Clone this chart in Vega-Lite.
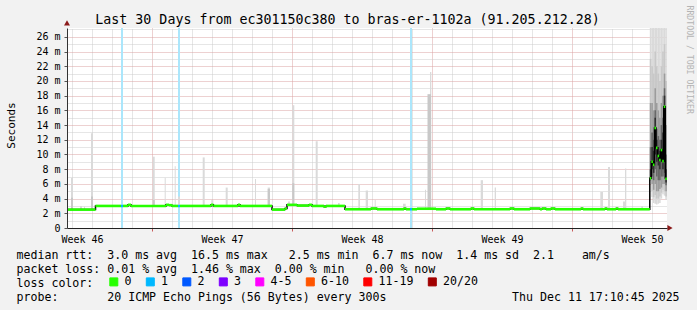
{
  "$schema": "https://vega.github.io/schema/vega-lite/v6.json",
  "width": 600,
  "height": 200,
  "autosize": {"type": "none"},
  "padding": {"left": 67, "top": 28, "right": 30, "bottom": 82},
  "background": "#f2f2f2",
  "config": {
    "view": {"fill": "white", "stroke": null},
    "font": "DejaVu Sans Mono"
  },
  "title": {
    "text": "Last 30 Days from ec301150c380 to bras-er-1102a (91.205.212.28)",
    "font": "DejaVu Sans Mono",
    "fontSize": 13.3,
    "fontWeight": "normal",
    "color": "black",
    "anchor": "middle",
    "frame": "group",
    "dx": -19.5,
    "dy": 25,
    "offset": 4
  },
  "datasets": {
    "median": [
      {"t0": 0, "t1": 1.425, "rtt": 2.5, "loss": "0"},
      {"t0": 1.425, "t1": 2.7, "rtt": 3.0, "loss": "0"},
      {"t0": 2.7, "t1": 2.8, "rtt": 3.0, "loss": "1"},
      {"t0": 2.8, "t1": 3.05, "rtt": 3.0, "loss": "0"},
      {"t0": 3.05, "t1": 3.2, "rtt": 3.15, "loss": "0"},
      {"t0": 3.2, "t1": 4.95, "rtt": 3.0, "loss": "0"},
      {"t0": 4.95, "t1": 5.1, "rtt": 3.15, "loss": "0"},
      {"t0": 5.1, "t1": 5.25, "rtt": 3.1, "loss": "0"},
      {"t0": 5.25, "t1": 5.55, "rtt": 3.0, "loss": "0"},
      {"t0": 5.55, "t1": 5.65, "rtt": 3.0, "loss": "1"},
      {"t0": 5.65, "t1": 7.2, "rtt": 3.0, "loss": "0"},
      {"t0": 7.2, "t1": 7.32, "rtt": 3.15, "loss": "0"},
      {"t0": 7.32, "t1": 8.55, "rtt": 3.0, "loss": "0"},
      {"t0": 8.55, "t1": 8.65, "rtt": 3.15, "loss": "0"},
      {"t0": 8.65, "t1": 10.25, "rtt": 3.0, "loss": "0"},
      {"t0": 10.25, "t1": 10.9, "rtt": 2.5, "loss": "0"},
      {"t0": 10.9, "t1": 11.0, "rtt": 2.65, "loss": "0"},
      {"t0": 11.0, "t1": 11.5, "rtt": 3.15, "loss": "0"},
      {"t0": 11.5, "t1": 12.1, "rtt": 3.05, "loss": "0"},
      {"t0": 12.1, "t1": 12.25, "rtt": 3.15, "loss": "0"},
      {"t0": 12.25, "t1": 12.85, "rtt": 3.0, "loss": "0"},
      {"t0": 12.85, "t1": 12.95, "rtt": 2.9, "loss": "0"},
      {"t0": 12.95, "t1": 13.9, "rtt": 3.0, "loss": "0"},
      {"t0": 13.9, "t1": 15.2, "rtt": 2.55, "loss": "0"},
      {"t0": 15.2, "t1": 15.5, "rtt": 2.65, "loss": "0"},
      {"t0": 15.5, "t1": 16.85, "rtt": 2.55, "loss": "0"},
      {"t0": 16.85, "t1": 16.95, "rtt": 2.65, "loss": "0"},
      {"t0": 16.95, "t1": 17.15, "rtt": 2.55, "loss": "0"},
      {"t0": 17.15, "t1": 17.25, "rtt": 2.55, "loss": "1"},
      {"t0": 17.25, "t1": 17.5, "rtt": 2.55, "loss": "0"},
      {"t0": 17.5, "t1": 18.45, "rtt": 2.62, "loss": "0"},
      {"t0": 18.45, "t1": 18.95, "rtt": 2.55, "loss": "0"},
      {"t0": 18.95, "t1": 19.15, "rtt": 2.65, "loss": "0"},
      {"t0": 19.15, "t1": 20.2, "rtt": 2.55, "loss": "0"},
      {"t0": 20.2, "t1": 20.35, "rtt": 2.65, "loss": "0"},
      {"t0": 20.35, "t1": 22.15, "rtt": 2.55, "loss": "0"},
      {"t0": 22.15, "t1": 22.35, "rtt": 2.65, "loss": "0"},
      {"t0": 22.35, "t1": 23.15, "rtt": 2.55, "loss": "0"},
      {"t0": 23.15, "t1": 23.65, "rtt": 2.65, "loss": "0"},
      {"t0": 23.65, "t1": 23.75, "rtt": 2.55, "loss": "0"},
      {"t0": 23.75, "t1": 23.95, "rtt": 2.65, "loss": "0"},
      {"t0": 23.95, "t1": 24.2, "rtt": 2.55, "loss": "0"},
      {"t0": 24.2, "t1": 24.4, "rtt": 2.65, "loss": "0"},
      {"t0": 24.4, "t1": 25.7, "rtt": 2.55, "loss": "0"},
      {"t0": 25.7, "t1": 25.8, "rtt": 2.65, "loss": "0"},
      {"t0": 25.8, "t1": 26.9, "rtt": 2.55, "loss": "0"},
      {"t0": 26.9, "t1": 27.0, "rtt": 2.65, "loss": "0"},
      {"t0": 27.0, "t1": 27.45, "rtt": 2.55, "loss": "0"},
      {"t0": 27.45, "t1": 27.55, "rtt": 2.65, "loss": "0"},
      {"t0": 27.55, "t1": 29.14, "rtt": 2.55, "loss": "0"},
      {"t0": 29.14, "t1": 29.2175, "rtt": 6.76, "loss": "0"},
      {"t0": 29.2175, "t1": 29.295, "rtt": 9.0, "loss": "0"},
      {"t0": 29.295, "t1": 29.3725, "rtt": 8.6, "loss": "0"},
      {"t0": 29.3725, "t1": 29.45, "rtt": 13.6, "loss": "0"},
      {"t0": 29.45, "t1": 29.5275, "rtt": 10.9, "loss": "0"},
      {"t0": 29.5275, "t1": 29.605, "rtt": 9.8, "loss": "0"},
      {"t0": 29.605, "t1": 29.6825, "rtt": 9.25, "loss": "0"},
      {"t0": 29.6825, "t1": 29.76, "rtt": 10.6, "loss": "0"},
      {"t0": 29.76, "t1": 29.8375, "rtt": 9.1, "loss": "0"},
      {"t0": 29.8375, "t1": 29.915, "rtt": 16.5, "loss": "0"},
      {"t0": 29.915, "t1": 29.9925, "rtt": 6.7, "loss": "0"}
    ],
    "smoke": [
      {"t0": 0.2, "t1": 0.3, "lo": 2.6, "hi": 6.8, "level": 1},
      {"t0": 0.2, "t1": 0.3, "lo": 2.6, "hi": 4.1, "level": 2},
      {"t0": 0.65, "t1": 0.75, "lo": 2.5, "hi": 3.0, "level": 1},
      {"t0": 0.85, "t1": 0.9, "lo": 2.5, "hi": 2.9, "level": 1},
      {"t0": 1.2, "t1": 1.3, "lo": 2.6, "hi": 12.9, "level": 1},
      {"t0": 1.2, "t1": 1.3, "lo": 2.6, "hi": 4.3, "level": 2},
      {"t0": 4.285, "t1": 4.385, "lo": 3.0, "hi": 9.7, "level": 1},
      {"t0": 4.285, "t1": 4.385, "lo": 3.0, "hi": 3.8, "level": 2},
      {"t0": 4.885, "t1": 4.935, "lo": 3.0, "hi": 6.85, "level": 1},
      {"t0": 5.385, "t1": 5.435, "lo": 3.0, "hi": 8.4, "level": 1},
      {"t0": 5.55, "t1": 5.65, "lo": 3.0, "hi": 4.3, "level": 1},
      {"t0": 6.785, "t1": 6.885, "lo": 3.0, "hi": 9.6, "level": 1},
      {"t0": 7.215, "t1": 7.315, "lo": 3.0, "hi": 3.8, "level": 1},
      {"t0": 7.935, "t1": 8.035, "lo": 3.0, "hi": 5.5, "level": 1},
      {"t0": 9.4, "t1": 9.45, "lo": 3.0, "hi": 6.67, "level": 1},
      {"t0": 10.035, "t1": 10.15, "lo": 3.0, "hi": 5.5, "level": 1},
      {"t0": 10.035, "t1": 10.15, "lo": 3.0, "hi": 5.3, "level": 2},
      {"t0": 11.265, "t1": 11.365, "lo": 3.0, "hi": 16.7, "level": 1},
      {"t0": 11.265, "t1": 11.365, "lo": 3.0, "hi": 6.1, "level": 2},
      {"t0": 11.05, "t1": 11.15, "lo": 3.0, "hi": 3.6, "level": 1},
      {"t0": 12.435, "t1": 12.535, "lo": 3.0, "hi": 11.8, "level": 1},
      {"t0": 13.55, "t1": 13.635, "lo": 3.0, "hi": 3.4, "level": 1},
      {"t0": 14.565, "t1": 14.65, "lo": 2.5, "hi": 6.0, "level": 1},
      {"t0": 14.935, "t1": 15.05, "lo": 2.5, "hi": 5.1, "level": 1},
      {"t0": 15.385, "t1": 15.435, "lo": 2.5, "hi": 3.8, "level": 1},
      {"t0": 16.8, "t1": 16.935, "lo": 2.5, "hi": 3.3, "level": 1},
      {"t0": 17.9, "t1": 17.95, "lo": 2.5, "hi": 5.2, "level": 1},
      {"t0": 18.15, "t1": 18.215, "lo": 2.5, "hi": 21.2, "level": 1},
      {"t0": 18.025, "t1": 18.2, "lo": 2.5, "hi": 18.2, "level": 2},
      {"t0": 20.685, "t1": 20.8, "lo": 2.5, "hi": 6.5, "level": 1},
      {"t0": 21.385, "t1": 21.45, "lo": 2.5, "hi": 5.5, "level": 1},
      {"t0": 26.665, "t1": 26.8, "lo": 2.5, "hi": 4.9, "level": 1},
      {"t0": 27.05, "t1": 27.15, "lo": 2.5, "hi": 8.3, "level": 1},
      {"t0": 27.9, "t1": 27.965, "lo": 2.5, "hi": 8.1, "level": 1},
      {"t0": 27.8, "t1": 27.9, "lo": 2.5, "hi": 3.6, "level": 1},
      {"t0": 28.715, "t1": 28.8, "lo": 2.5, "hi": 3.0, "level": 1},

      {"t0": 29.14, "t1": 29.2175, "lo": 6.4, "hi": 27.5, "level": 1},
      {"t0": 29.14, "t1": 29.2175, "lo": 6.5, "hi": 23, "level": 2},
      {"t0": 29.14, "t1": 29.2175, "lo": 6.6, "hi": 17, "level": 3},
      {"t0": 29.14, "t1": 29.2175, "lo": 6.7, "hi": 11, "level": 4},
      {"t0": 29.14, "t1": 29.2175, "lo": 6.7, "hi": 8, "level": 5},
      {"t0": 29.2175, "t1": 29.295, "lo": 4.2, "hi": 27.5, "level": 1},
      {"t0": 29.2175, "t1": 29.295, "lo": 5, "hi": 22, "level": 2},
      {"t0": 29.2175, "t1": 29.295, "lo": 6, "hi": 17, "level": 3},
      {"t0": 29.2175, "t1": 29.295, "lo": 7, "hi": 13, "level": 4},
      {"t0": 29.2175, "t1": 29.295, "lo": 8, "hi": 11, "level": 5},
      {"t0": 29.295, "t1": 29.3725, "lo": 3.4, "hi": 27.5, "level": 1},
      {"t0": 29.295, "t1": 29.3725, "lo": 4.2, "hi": 21, "level": 2},
      {"t0": 29.295, "t1": 29.3725, "lo": 5.2, "hi": 16, "level": 3},
      {"t0": 29.295, "t1": 29.3725, "lo": 6.5, "hi": 12, "level": 4},
      {"t0": 29.295, "t1": 29.3725, "lo": 7.5, "hi": 10.5, "level": 5},
      {"t0": 29.3725, "t1": 29.45, "lo": 3.3, "hi": 27.5, "level": 1},
      {"t0": 29.3725, "t1": 29.45, "lo": 4.5, "hi": 24, "level": 2},
      {"t0": 29.3725, "t1": 29.45, "lo": 6, "hi": 19, "level": 3},
      {"t0": 29.3725, "t1": 29.45, "lo": 8, "hi": 16, "level": 4},
      {"t0": 29.3725, "t1": 29.45, "lo": 10, "hi": 15, "level": 5},
      {"t0": 29.45, "t1": 29.5275, "lo": 3.2, "hi": 27.5, "level": 1},
      {"t0": 29.45, "t1": 29.5275, "lo": 4, "hi": 22, "level": 2},
      {"t0": 29.45, "t1": 29.5275, "lo": 5, "hi": 17, "level": 3},
      {"t0": 29.45, "t1": 29.5275, "lo": 7, "hi": 13.5, "level": 4},
      {"t0": 29.45, "t1": 29.5275, "lo": 9, "hi": 12, "level": 5},
      {"t0": 29.5275, "t1": 29.605, "lo": 3.3, "hi": 27.5, "level": 1},
      {"t0": 29.5275, "t1": 29.605, "lo": 4, "hi": 21, "level": 2},
      {"t0": 29.5275, "t1": 29.605, "lo": 5, "hi": 16, "level": 3},
      {"t0": 29.5275, "t1": 29.605, "lo": 6.5, "hi": 12.5, "level": 4},
      {"t0": 29.5275, "t1": 29.605, "lo": 8.5, "hi": 11, "level": 5},
      {"t0": 29.605, "t1": 29.6825, "lo": 3.4, "hi": 27.5, "level": 1},
      {"t0": 29.605, "t1": 29.6825, "lo": 4.3, "hi": 20, "level": 2},
      {"t0": 29.605, "t1": 29.6825, "lo": 5.3, "hi": 15, "level": 3},
      {"t0": 29.605, "t1": 29.6825, "lo": 6.5, "hi": 12, "level": 4},
      {"t0": 29.605, "t1": 29.6825, "lo": 8, "hi": 10.5, "level": 5},
      {"t0": 29.6825, "t1": 29.76, "lo": 4, "hi": 27.5, "level": 1},
      {"t0": 29.6825, "t1": 29.76, "lo": 4.8, "hi": 22, "level": 2},
      {"t0": 29.6825, "t1": 29.76, "lo": 5.5, "hi": 17, "level": 3},
      {"t0": 29.6825, "t1": 29.76, "lo": 7, "hi": 14, "level": 4},
      {"t0": 29.6825, "t1": 29.76, "lo": 9, "hi": 12, "level": 5},
      {"t0": 29.76, "t1": 29.8375, "lo": 4.6, "hi": 27.5, "level": 1},
      {"t0": 29.76, "t1": 29.8375, "lo": 5.2, "hi": 24, "level": 2},
      {"t0": 29.76, "t1": 29.8375, "lo": 6, "hi": 18, "level": 3},
      {"t0": 29.76, "t1": 29.8375, "lo": 7, "hi": 15, "level": 4},
      {"t0": 29.76, "t1": 29.8375, "lo": 8, "hi": 13, "level": 5},
      {"t0": 29.8375, "t1": 29.915, "lo": 4.4, "hi": 27.5, "level": 1},
      {"t0": 29.8375, "t1": 29.915, "lo": 5, "hi": 25, "level": 2},
      {"t0": 29.8375, "t1": 29.915, "lo": 6, "hi": 21, "level": 3},
      {"t0": 29.8375, "t1": 29.915, "lo": 7.5, "hi": 19, "level": 4},
      {"t0": 29.8375, "t1": 29.915, "lo": 9, "hi": 18, "level": 5},
      {"t0": 29.915, "t1": 29.9925, "lo": 3.8, "hi": 27.5, "level": 1},
      {"t0": 29.915, "t1": 29.9925, "lo": 4.3, "hi": 20, "level": 2},
      {"t0": 29.915, "t1": 29.9925, "lo": 5, "hi": 14, "level": 3},
      {"t0": 29.915, "t1": 29.9925, "lo": 5.8, "hi": 10, "level": 4},
      {"t0": 29.915, "t1": 29.9925, "lo": 6.2, "hi": 8, "level": 5}
    ]
  },
  "resolve": {"axis": {"x": "independent", "y": "independent"}},
  "layer": [
    {
      "data": {"name": "median"},
      "transform": [{"filter": "datum.loss !== '0'"}],
      "mark": {"type": "rect", "color": "#abe6fb"},
      "encoding": {
        "x": {
          "field": "t0", "type": "quantitative",
          "scale": {"domain": [0, 30], "nice": false, "zero": false},
          "axis": {
            "orient": "bottom",
            "values": [0.25, 1.25, 2.25, 3.25, 5.25, 6.25, 7.25, 8.25, 9.25, 10.25, 12.25, 13.25, 14.25, 15.25, 16.25, 17.25, 19.25, 20.25, 21.25, 22.25, 23.25, 24.25, 26.25, 27.25, 28.25, 29.25],
            "grid": true, "gridColor": "#cccccc", "gridDash": [1, 1], "gridWidth": 1,
            "labels": false, "ticks": false, "domain": false, "title": null
          }
        },
        "x2": {"field": "t1"}
      }
    },
    {
      "data": {"name": "smoke"},
      "mark": {"type": "rect", "clip": true},
      "encoding": {
        "x": {
          "field": "t0", "type": "quantitative",
          "axis": {
            "orient": "bottom",
            "values": [4.25, 11.25, 18.25, 25.25],
            "grid": true, "gridColor": "#dba2a2", "gridDash": [1, 1], "gridWidth": 1,
            "labels": false, "ticks": true, "tickColor": "#c85a5a", "tickSize": 3,
            "domain": false, "title": null
          }
        },
        "x2": {"field": "t1"},
        "y": {
          "field": "lo", "type": "quantitative",
          "scale": {"domain": [0, 27.2], "nice": false, "zero": true},
          "axis": {
            "orient": "left",
            "values": [1, 3, 5, 7, 9, 11, 13, 15, 17, 19, 21, 23, 25, 27],
            "grid": true, "gridColor": "#cccccc", "gridDash": [1, 1], "gridWidth": 1,
            "labels": false, "ticks": false, "domain": false, "title": null
          }
        },
        "y2": {"field": "hi"},
        "fill": {
          "field": "level", "type": "ordinal",
          "scale": {"domain": [1, 2, 3, 4, 5], "range": ["#dadada", "#c8c8c8", "#9c9c9c", "#686868", "#303030"]},
          "legend": null
        },
        "order": {"field": "level", "type": "quantitative"}
      }
    },
    {
      "data": {"name": "median"},
      "mark": {"type": "line", "interpolate": "step-after", "color": "black", "strokeWidth": 1.5},
      "encoding": {
        "x": {"field": "t0", "type": "quantitative", "axis": null},
        "y": {
          "field": "rtt", "type": "quantitative",
          "axis": {
            "orient": "left",
            "values": [2, 4, 6, 8, 10, 12, 14, 16, 18, 20, 22, 24, 26],
            "grid": true, "gridColor": "#dba2a2", "gridDash": [1, 1], "gridWidth": 1,
            "labels": false, "ticks": false, "domain": false, "title": null
          }
        }
      }
    },
    {
      "data": {"name": "median"},
      "mark": {"type": "rule", "strokeWidth": 2.6},
      "encoding": {
        "x": {
          "field": "t0", "type": "quantitative",
          "axis": {
            "orient": "bottom",
            "values": [0.75, 7.75, 14.75, 21.75, 28.75],
            "labelExpr": "'Week ' + (46 + round((datum.value - 0.75) / 7))",
            "grid": false, "ticks": false, "tickSize": 0,
            "domain": true, "domainColor": "#222222", "domainWidth": 1,
            "labelFont": "DejaVu Sans Mono", "labelFontSize": 10, "labelColor": "black",
            "labelPadding": 6, "labelFlush": false, "labelOverlap": false,
            "title": [
              "median\u00a0rtt:\u00a0\u00a03.0\u00a0ms\u00a0avg\u00a0\u00a016.5\u00a0ms\u00a0max\u00a0\u00a0\u00a02.5\u00a0ms\u00a0min\u00a0\u00a06.7\u00a0ms\u00a0now\u00a0\u00a01.4\u00a0ms\u00a0sd\u00a0\u00a02.1\u00a0\u00a0\u00a0\u00a0am/s",
              "packet\u00a0loss:\u00a00.01\u00a0%\u00a0avg\u00a0\u00a01.46\u00a0%\u00a0max\u00a0\u00a00.00\u00a0%\u00a0min\u00a0\u00a0\u00a00.00\u00a0%\u00a0now",
              "loss\u00a0color:",
              "probe:\u00a0\u00a0\u00a0\u00a0\u00a0\u00a0\u00a020\u00a0ICMP\u00a0Echo\u00a0Pings\u00a0(56\u00a0Bytes)\u00a0every\u00a0300s\u00a0\u00a0\u00a0\u00a0\u00a0\u00a0\u00a0\u00a0\u00a0\u00a0\u00a0\u00a0\u00a0\u00a0\u00a0\u00a0\u00a0\u00a0Thu\u00a0Dec\u00a011\u00a017:10:45\u00a02025"
            ],
            "titleFont": "DejaVu Sans Mono", "titleFontSize": 11.6, "titleFontWeight": "normal",
            "titleColor": "black", "titleAlign": "left", "titleAnchor": "start",
            "titleBaseline": "alphabetic", "titleX": -51, "titleY": 30,
            "titleLineHeight": 14, "titleLimit": 2000,
            "zindex": 1
          }
        },
        "x2": {"field": "t1"},
        "y": {
          "field": "rtt", "type": "quantitative",
          "axis": {
            "orient": "right",
            "values": [],
            "grid": false, "labels": false, "ticks": false, "domain": false,
            "title": "RRDTOOL / TOBI OETIKER",
            "titleAngle": 90, "titleX": 21, "titleY": -23,
            "titleAlign": "left", "titleBaseline": "middle",
            "titleFont": "DejaVu Sans Mono", "titleFontSize": 8.2, "titleFontWeight": "normal",
            "titleColor": "#b4b4b4"
          }
        },
        "color": {
          "field": "loss", "type": "nominal",
          "scale": {
            "domain": ["0", "1", "2", "3", "4-5", "6-10", "11-19", "20/20"],
            "range": ["#26ff00", "#00b8ff", "#0059ff", "#7e00ff", "#ff00ff", "#ff5500", "#ff0000", "#a10000"]
          },
          "legend": {
            "orient": "none", "legendX": 41, "legendY": 248,
            "direction": "horizontal",
            "title": null,
            "labelFont": "DejaVu Sans Mono", "labelFontSize": 11.6, "labelColor": "black",
            "labelOffset": 5, "columnPadding": 11.5, "labelLimit": 200,
            "symbolType": "square", "symbolSize": 64, "symbolStrokeWidth": 1,
            "symbolStrokeColor": "black", "padding": 0,
            "encode": {
              "symbols": {
                "update": {
                  "fill": {"scale": "color", "field": "value"},
                  "stroke": {"value": "black"},
                  "strokeWidth": {"value": 1},
                  "opacity": {"value": 1}
                }
              }
            }
          }
        }
      }
    },
    {
      "data": {"values": [{}]},
      "mark": {"type": "point", "shape": "triangle-up", "filled": true, "size": 36, "color": "#8b1a1a", "opacity": 1},
      "encoding": {
        "x": {"datum": 0, "type": "quantitative", "axis": null},
        "y": {
          "datum": 27.9, "type": "quantitative",
          "axis": {
            "orient": "left",
            "values": [0, 2, 4, 6, 8, 10, 12, 14, 16, 18, 20, 22, 24, 26],
            "labelExpr": "datum.value === 0 ? '0' : datum.value + ' m'",
            "grid": false, "domain": true, "domainColor": "#333333", "domainWidth": 1,
            "ticks": true, "tickSize": 3, "tickColor": "#555555",
            "labelFont": "DejaVu Sans Mono", "labelFontSize": 10, "labelColor": "black",
            "labelPadding": 4, "labelBaseline": "middle",
            "title": "Seconds",
            "titleFont": "DejaVu Sans Mono", "titleFontSize": 11, "titleFontWeight": "normal",
            "titleColor": "black", "titleX": -56, "titleY": 97,
            "titleAlign": "center", "titleBaseline": "middle", "titleAngle": -90,
            "zindex": 1
          }
        }
      }
    },
    {
      "data": {"values": [{}]},
      "mark": {"type": "point", "shape": "triangle-right", "filled": true, "size": 36, "color": "#8b1a1a", "opacity": 1},
      "encoding": {
        "x": {"datum": 30.15, "type": "quantitative", "axis": null},
        "y": {"datum": 0, "type": "quantitative", "axis": null}
      }
    }
  ]
}
